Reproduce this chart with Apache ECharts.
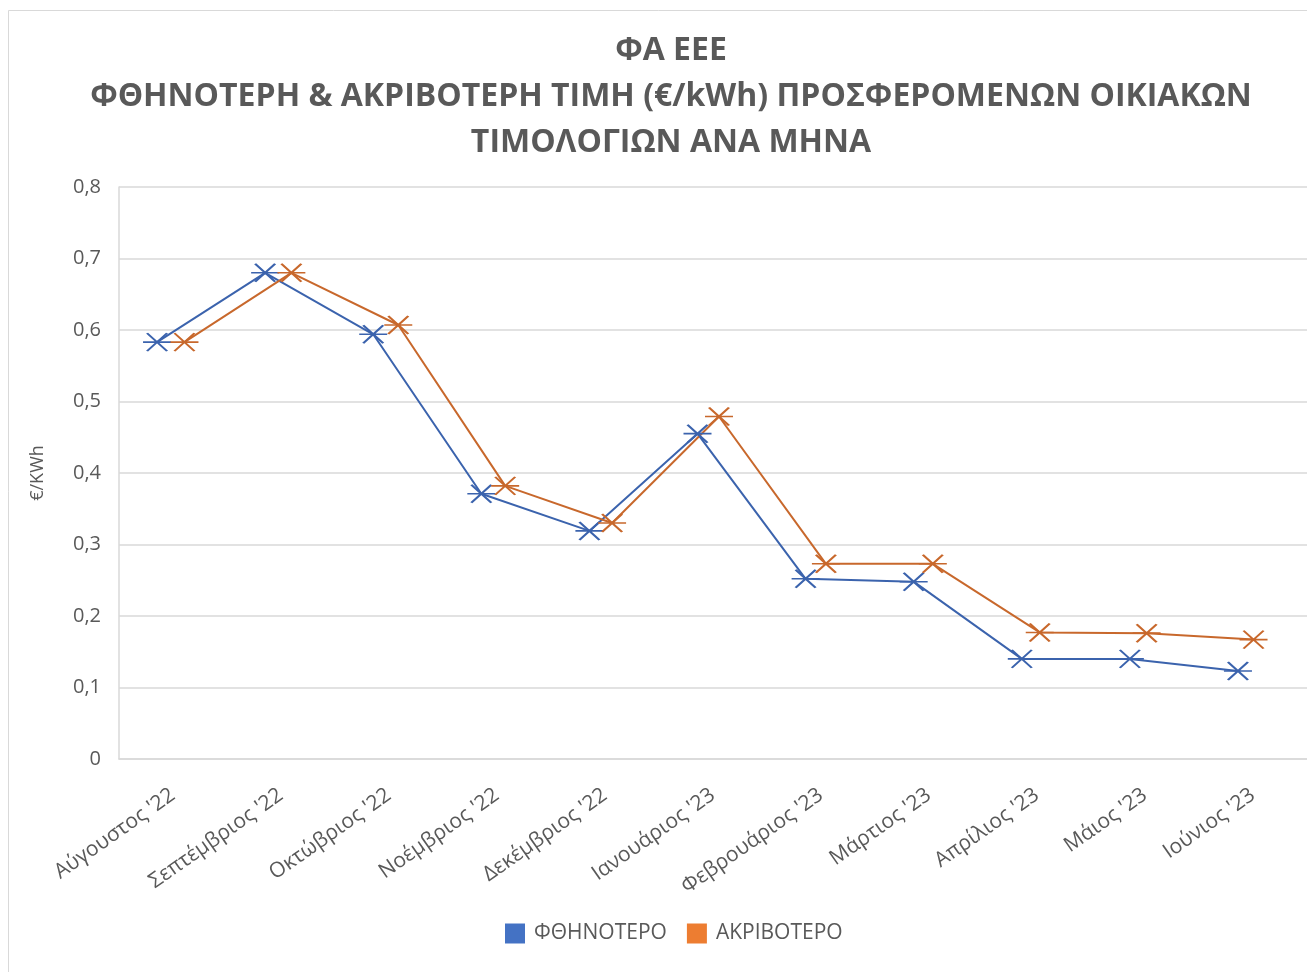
<!DOCTYPE html>
<html>
<head>
<meta charset="utf-8">
<script src="https://cdn.jsdelivr.net/npm/echarts@6/dist/echarts.min.js"></script>
<style>
  html, body { margin: 0; padding: 0; background: #fff; }
  #chart { width: 1307px; height: 972px; }
</style>
</head>
<body>
<div id="chart"></div>
<script>
// months on the x axis
const months = ["Αύγουστος '22", "Σεπτέμβριος '22", "Οκτώβριος '22", "Νοέμβριος '22", "Δεκέμβριος '22",
  "Ιανουάριος '23", "Φεβρουάριος '23", "Μάρτιος '23", "Απρίλιος '23", "Μάιος '23", "Ιούνιος '23"]
// cheapest / most expensive price €/kWh
const cheapest = [0.583, 0.680, 0.594, 0.371, 0.319, 0.455, 0.252, 0.248, 0.140, 0.140, 0.123]
const priciest = [0.583, 0.680, 0.607, 0.382, 0.330, 0.479, 0.273, 0.273, 0.177, 0.176, 0.167]
const yTicks = [0, 0.1, 0.2, 0.3, 0.4, 0.5, 0.6, 0.7, 0.8]

const FONT = 'Open Sans'
const GREY = '#595959'
// excel style "star" marker: an X with a horizontal bar
const star = 'path://M0 0L10 10M10 0L0 10M-2 5L12 5'

const chart = echarts.init(document.getElementById('chart'))

// main grid draws axes, the two shifted grids carry the series
const gTop = 187, gBottom = 972 - 759
chart.setOption({
  backgroundColor: '#fff',
  animation: false,
  graphic: [{
    type: 'rect',
    shape: { x: 8.5, y: 10.5, width: 1400, height: 1000 },
    style: { fill: 'none', stroke: '#d9d9d9', lineWidth: 1 }
  }],
  title: {
    text: 'ΦΑ ΕΕΕ\nΦΘΗΝΟΤΕΡΗ & ΑΚΡΙΒΟΤΕΡΗ ΤΙΜΗ (€/kWh) ΠΡΟΣΦΕΡΟΜΕΝΩΝ ΟΙΚΙΑΚΩΝ\nΤΙΜΟΛΟΓΙΩΝ ΑΝΑ ΜΗΝΑ',
    left: 666,
    top: 23,
    textAlign: 'center',
    textStyle: {
      fontFamily: FONT, fontSize: 32, fontWeight: 'bold', color: GREY,
      lineHeight: 46, align: 'center'
    }
  },
  legend: {
    bottom: 23,
    left: 500,
    icon: 'rect',
    itemWidth: 20,
    itemHeight: 20,
    itemGap: 20,
    textStyle: { fontFamily: FONT, fontSize: 21, color: GREY, padding: [0, 0, 0, 4] },
    data: [
      { name: 'ΦΘΗΝΟΤΕΡΟ', itemStyle: { color: '#4472C4', borderWidth: 0 } },
      { name: 'ΑΚΡΙΒΟΤΕΡΟ', itemStyle: { color: '#ED7D31', borderWidth: 0 } }
    ]
  },
  grid: [
    { left: 119, right: -1, top: gTop, bottom: gBottom },
    { left: 103, right: 15, top: gTop, bottom: gBottom },
    { left: 131, right: -13, top: gTop, bottom: gBottom }
  ],
  xAxis: [
    {
      gridIndex: 0,
      type: 'category',
      data: months,
      boundaryGap: true,
      axisLine: { lineStyle: { color: '#d9d9d9', width: 1.5 } },
      axisTick: { show: false },
      axisLabel: {
        rotate: 35, interval: 0, margin: 34,
        fontFamily: FONT, fontSize: 21, color: GREY
      }
    },
    { gridIndex: 1, type: 'category', data: months, show: false },
    { gridIndex: 2, type: 'category', data: months, show: false }
  ],
  yAxis: [
    {
      gridIndex: 0,
      type: 'value',
      min: 0, max: 0.8, interval: 0.1,
      name: '€/KWh',
      nameLocation: 'middle',
      nameGap: 72,
      nameRotate: 90,
      nameTextStyle: { fontFamily: FONT, fontSize: 18, color: GREY },
      axisLine: { show: true, lineStyle: { color: '#d9d9d9', width: 1.5 } },
      axisTick: { show: false },
      splitLine: { lineStyle: { color: '#d9d9d9', width: 1.5 } },
      axisLabel: {
        margin: 18,
        fontFamily: FONT, fontSize: 20, color: GREY,
        formatter: v => {
          const t = yTicks.find(k => Math.abs(k - v) < 1e-9)
          return t === 0 ? '0' : v.toFixed(1).replace('.', ',')
        }
      }
    },
    { gridIndex: 1, type: 'value', min: 0, max: 0.8, show: false },
    { gridIndex: 2, type: 'value', min: 0, max: 0.8, show: false }
  ],
  series: [
    {
      name: 'ΦΘΗΝΟΤΕΡΟ',
      type: 'line',
      xAxisIndex: 1, yAxisIndex: 1,
      data: cheapest,
      symbol: star,
      symbolSize: [28, 18],
      showAllSymbol: true,
      lineStyle: { color: '#3B63AD', width: 2 },
      itemStyle: { color: '#3B63AD', borderColor: '#3B63AD', borderWidth: 2 }
    },
    {
      name: 'ΑΚΡΙΒΟΤΕΡΟ',
      type: 'line',
      xAxisIndex: 2, yAxisIndex: 2,
      data: priciest,
      symbol: star,
      symbolSize: [28, 18],
      showAllSymbol: true,
      lineStyle: { color: '#C8682C', width: 2 },
      itemStyle: { color: '#C8682C', borderColor: '#C8682C', borderWidth: 2 }
    }
  ]
})
</script>
</body>
</html>
